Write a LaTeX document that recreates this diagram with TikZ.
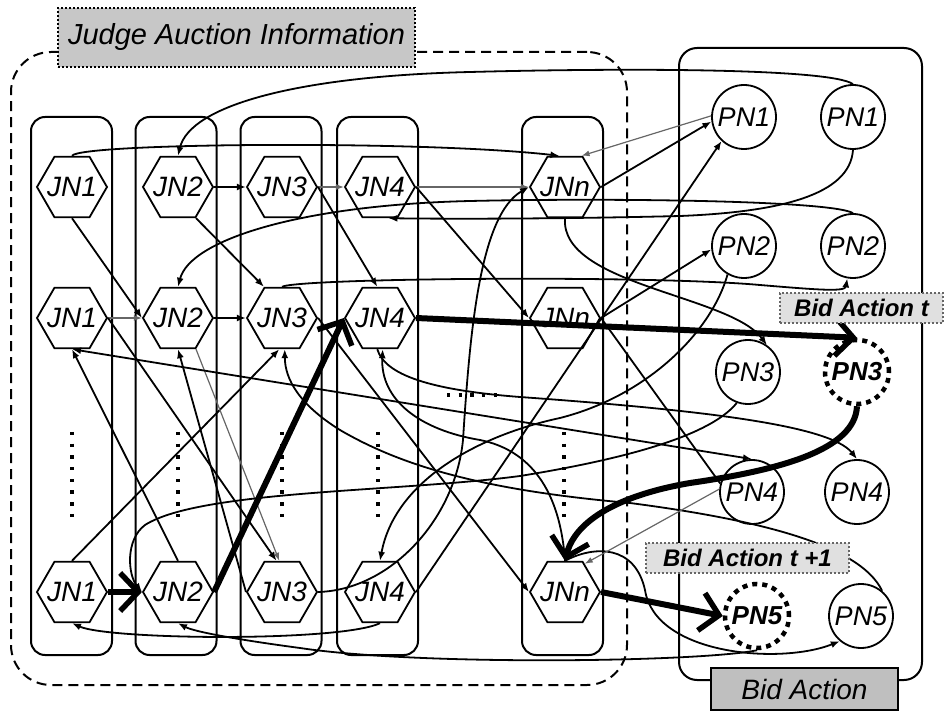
\documentclass[tikz,border=0pt]{standalone}
\usepackage{fontspec}
\setmainfont{Liberation Sans}
\usetikzlibrary{shapes.geometric,arrows.meta}

% label of fixed footprint, so the hexagon keeps its size
\newcommand{\hexlabel}[1]{\makebox[0pt]{#1}}

\begin{document}
\begin{tikzpicture}[x=1pt,y=-1pt,
  hexnode/.style={regular polygon, regular polygon sides=6, minimum size=70pt,
    inner sep=0pt, draw, line width=1.8pt, font=\fontsize{28}{32}\selectfont\itshape},
  pnode/.style={circle, minimum size=64pt, inner sep=0pt, draw, line width=1.8pt,
    font=\fontsize{27}{30}\selectfont\itshape},
  bidnode/.style={pnode, line width=4.5pt, dash pattern=on 5pt off 5pt,
    font=\fontsize{26}{30}\selectfont\bfseries\itshape},
  colbox/.style={draw, rounded corners=14pt, line width=2pt, minimum width=81pt,
    minimum height=538pt, inner sep=0pt},
  link/.style={line width=1.8pt, -{Latex[length=9pt,width=7pt]}},
  linkboth/.style={line width=1.8pt, {Latex[length=9pt,width=7pt]}-{Latex[length=9pt,width=7pt]}},
  plainlink/.style={line width=1.8pt},
  faint/.style={line width=1.2pt, draw=black!60, -{Latex[length=8pt,width=6pt]}},
  boldlink/.style={line width=6pt, -{Straight Barb[length=18pt,width=38pt,line width=5.5pt]}},
  dotcol/.style={line width=3.3pt, dash pattern=on 3.3pt off 8.4pt},
  tag/.style={draw, inner sep=0pt, line width=2pt},
]
\useasboundingbox (0,0) rectangle (946,711);

% outer frames
\node[draw, line width=2pt, dash pattern=on 10pt off 6pt, rounded corners=40pt,
      minimum width=616pt, minimum height=633pt, inner sep=0pt] (judgeframe) at (319,368.5) {};
\node[draw, line width=2pt, rounded corners=18pt,
      minimum width=243pt, minimum height=632pt, inner sep=0pt] (bidframe) at (800.5,364) {};

% judge columns
\node[colbox] (col1) at (71.5,386) {};
\node[colbox] (col2) at (176,386) {};
\node[colbox] (col3) at (281,386) {};
\node[colbox] (col4) at (377.5,386) {};
\node[colbox] (coln) at (562.5,386) {};

% elision dots
\draw[dotcol] (72,432) -- (72,522);
\draw[dotcol] (178,432) -- (178,522);
\draw[dotcol] (282,432) -- (282,522);
\draw[dotcol] (378,432) -- (378,522);
\draw[dotcol] (564,432) -- (564,522);
\draw[dotcol] (447,395) -- (497,395);

% judge nodes
\node[hexnode] (j1a) at (72,187) {\hexlabel{JN1}};
\node[hexnode] (j2a) at (178,187) {\hexlabel{JN2}};
\node[hexnode] (j3a) at (282,187) {\hexlabel{JN3}};
\node[hexnode] (j4a) at (380,187) {\hexlabel{JN4}};
\node[hexnode] (jna) at (565,187) {\hexlabel{JNn}};
\node[hexnode] (j1b) at (72,318) {\hexlabel{JN1}};
\node[hexnode] (j2b) at (178,318) {\hexlabel{JN2}};
\node[hexnode] (j3b) at (282,318) {\hexlabel{JN3}};
\node[hexnode] (j4b) at (380,318) {\hexlabel{JN4}};
\node[hexnode] (jnb) at (565,318) {\hexlabel{JNn}};
\node[hexnode] (j1c) at (72,592) {\hexlabel{JN1}};
\node[hexnode] (j2c) at (178,592) {\hexlabel{JN2}};
\node[hexnode] (j3c) at (282,592) {\hexlabel{JN3}};
\node[hexnode] (j4c) at (380,592) {\hexlabel{JN4}};
\node[hexnode] (jnc) at (565,592) {\hexlabel{JNn}};

% bid nodes
\node[pnode] (p1a) at (744,117) {PN1};
\node[pnode] (p1b) at (853,117) {PN1};
\node[pnode] (p2a) at (744,246) {PN2};
\node[pnode] (p2b) at (853,246) {PN2};
\node[pnode] (p3a) at (748,372) {PN3};
\node[bidnode] (p3b) at (857,372) {PN3};
\node[pnode] (p4a) at (752,492) {PN4};
\node[pnode] (p4b) at (857,492) {PN4};
\node[bidnode] (p5a) at (757,616) {PN5};
\node[pnode] (p5b) at (861,616) {PN5};

% top part
\draw[link] (j1a.north) .. controls (80,143) and (420,140) .. (jna.100);
\draw[link] (p1b.north) .. controls (830,68) and (620,68) .. (470,72)
            .. controls (300,76) and (190,105) .. (j2a.north);
\draw[link] (j2a.east) -- (j3a.west);
\draw[faint] (j3a.east) -- (j4a.west);
\draw[faint] (j4a.east) -- (jna.west);
\draw[link] (jna.east) -- (p1a.188);
\draw[faint] (p1a.178) -- (jna.62);
\draw[link] (p1b.south) .. controls (850,195) and (780,212) .. (680,216)
            .. controls (560,219) and (450,219) .. (j4a.-75);
\draw[link] (p2b.north) .. controls (830,200) and (600,198) .. (470,201)
            .. controls (300,205) and (190,240) .. (j2b.north);
\draw[link] (jna.south) .. controls (560,285) and (730,295) .. (p3a.55);
\draw[link] (j3b.north) .. controls (300,278) and (650,275) .. (760,285)
            .. controls (820,290) and (845,292) .. (p2b.-100);
\draw[link] (j2a.-60) -- (j3b.120);
\draw[link] (j1a.south) -- (j2b.west);
\draw[link] (j3a.east) -- (j4b.95);
\draw[link] (j4a.east) -- (jnb.west);
\draw[faint] (j1b.east) -- (j2b.west);
\draw[link] (j2b.east) -- (j3b.west);

% middle and lower part
\draw[link] (j4c.east) -- (p1a.227);
\draw[link] (jnb.east) -- (p2a.186);
\draw[plainlink] (jnb.east) -- (p4a.165);
\draw[link] (j1c.north) -- (j3b.-95);
\draw[link] (j2c.north) -- (j1b.south);
\draw[link] (j1b.east) -- (j3c.100);
\draw[faint] (j2b.-60) -- (j3c.95);
\draw[link] (j3c.west) -- (j2b.south);
\draw[link] (p5b.50) .. controls (860,545) and (760,520) .. (630,503)
            .. controls (480,490) and (400,465) .. (340,430)
            .. controls (300,405) and (285,380) .. (j3b.-85);
\draw[link] (j4b.-95) .. controls (385,375) and (430,390) .. (520,397)
            .. controls (700,410) and (830,425) .. (p4b.north);
\draw[link] (jnc.north) .. controls (560,490) and (530,450) .. (480,440)
            .. controls (420,430) and (380,400) .. (j4b.-85);
\draw[link] (p2a.-120) .. controls (712,330) and (650,395) .. (560,418)
            .. controls (480,435) and (395,480) .. (j4c.north);
\draw[link] (p3a.-110) .. controls (715,430) and (650,455) .. (520,476)
            .. controls (400,492) and (200,490) .. (145,525)
            .. controls (125,540) and (128,575) .. (j2c.west);
\draw[link] (j3c.east) .. controls (390,590) and (455,520) .. (463,440)
            .. controls (470,330) and (480,215) .. (jna.west);
\draw[link] (j4c.south) .. controls (340,642) and (110,640) .. (j1c.south);
\draw[link] (p5a.south) .. controls (700,662) and (420,666) .. (300,648)
            .. controls (240,640) and (195,632) .. (j2c.south);
\draw[link] (jnc.north) .. controls (595,545) and (635,545) .. (645,590)
            .. controls (655,655) and (780,665) .. (p5b.-130);
\draw[faint] (p4a.175) -- (jnc.55);
\draw[linkboth] (j1b.south) -- (p4a.north);
\draw[link] (j3b.east) -- (jnc.west);

% bid action paths
\draw[boldlink] (j1c.east) -- (j2c.west);
\draw[boldlink] (j2c.east) -- (j4b.west);
\draw[boldlink] (j4b.east) -- (p3b.north);
\draw[boldlink] (p3b.south) .. controls (855,450) and (780,470) .. (690,483)
            .. controls (620,495) and (575,520) .. (jnc.north);
\draw[boldlink] (jnc.east) -- (p5a.west);

% captions
\node[tag, fill=black!22, dash pattern=on 2pt off 2pt, minimum width=357pt, minimum height=59pt,
      font=\fontsize{29}{32}\selectfont\itshape] (judgetag) at (236.5,37.5) {Judge Auction Information};
\node[tag, fill=black!12, draw=black!60, line width=1.6pt, dash pattern=on 2pt off 2pt,
      minimum width=163pt, minimum height=30pt,
      font=\fontsize{24}{28}\selectfont\bfseries\itshape] (bidt) at (861.5,308) {Bid Action t};
\node[tag, fill=black!12, draw=black!60, line width=1.6pt, dash pattern=on 2pt off 2pt,
      minimum width=203pt, minimum height=30pt,
      font=\fontsize{24}{28}\selectfont\bfseries\itshape] (bidt1) at (747.5,558) {Bid Action t +1};
\node[tag, fill=black!25, minimum width=187pt, minimum height=42pt,
      font=\fontsize{28}{32}\selectfont\itshape] (bidtag) at (804.5,689) {Bid Action};
\end{tikzpicture}
\end{document}
